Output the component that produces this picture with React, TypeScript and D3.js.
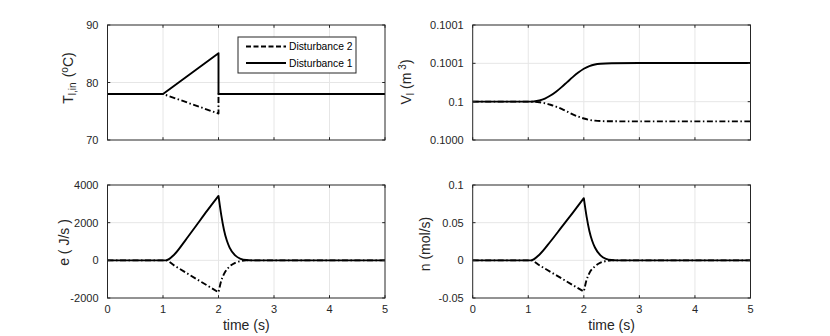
import React from "react";
import * as d3 from "d3";

// ---------- data ----------
const timeTicks = [0, 1, 2, 3, 4, 5];

// Top-left: inlet temperature T_l,in (°C)
const tT1 = [0, 1, 2, 2, 5];
const T1 = [78, 78, 85.1, 78, 78];
const tT2 = [0, 1, 2, 2, 5];
const T2 = [78, 78, 74.6, 78, 78];
const tempTicks = [70, 80, 90];

// Top-right: liquid volume V_l (m^3)
const tV = [0, 1.0, 1.1, 1.2, 1.3, 1.4, 1.5, 1.6, 1.7, 1.8, 1.9, 2.0, 2.1, 2.2, 2.3, 2.5, 3.0, 5.0];
const V1 = [0.1, 0.1, 0.1000003, 0.1000015, 0.100004, 0.100008, 0.100013, 0.100019, 0.1000255, 0.100032, 0.100038, 0.100043, 0.1000465, 0.1000485, 0.1000495, 0.1000502, 0.1000505, 0.1000505];
const V2 = [0.1, 0.1, 0.0999998, 0.0999992, 0.099998, 0.099996, 0.0999935, 0.0999905, 0.099987, 0.0999835, 0.0999805, 0.099978, 0.0999762, 0.0999752, 0.0999747, 0.0999744, 0.0999743, 0.0999743];
const volTicks = [0.09995, 0.1, 0.10005, 0.1001];
const volTickLabels = ["0.1000", "0.1", "0.1001", "0.1001"];

// Bottom-left: energy e (J/s)
const tE1 = [0, 1.05, 1.2, 1.4, 1.6, 1.8, 2.0, 2.05, 2.1, 2.15, 2.2, 2.3, 2.4, 2.5, 2.6, 5];
const E1 = [0, 0, 300, 1050, 1850, 2650, 3420, 2400, 1600, 1050, 680, 260, 80, 15, 0, 0];
const tE2 = [0, 1.05, 1.2, 1.4, 1.6, 1.8, 2.0, 2.05, 2.1, 2.2, 2.3, 2.4, 2.5, 5];
const E2 = [0, 0, -270, -630, -990, -1340, -1700, -1080, -720, -330, -130, -40, 0, 0];
const eTicks = [-2000, 0, 2000, 4000];

// Bottom-right: molar flow n (mol/s)
const tN1 = [0, 1.05, 1.2, 1.4, 1.6, 1.8, 2.0, 2.05, 2.1, 2.15, 2.2, 2.3, 2.4, 2.5, 2.6, 5];
const N1 = [0, 0, 0.0075, 0.025, 0.044, 0.063, 0.0825, 0.058, 0.039, 0.026, 0.017, 0.0065, 0.002, 0.0004, 0, 0];
const tN2 = [0, 1.05, 1.2, 1.4, 1.6, 1.8, 2.0, 2.05, 2.1, 2.2, 2.3, 2.4, 2.5, 5];
const N2 = [0, 0, -0.0066, -0.0153, -0.024, -0.0328, -0.0415, -0.026, -0.017, -0.008, -0.003, -0.001, 0, 0];
const nTicks = [-0.05, 0, 0.05, 0.1];
const nTickLabels = ["-0.05", "0", "0.05", "0.1"];

const legendLabels = ["Disturbance 2", "Disturbance 1"];

// ---------- styling ----------
const FONT = "'Liberation Sans', Arial, Helvetica, sans-serif";
const AX = "#262626";
const GRID = "#e6e6e6";
const DASH = "6,2.5,1.5,2.5";
const LW = 1.9;

type Series = { t: number[]; v: number[]; dashed: boolean; smooth: boolean; splitAt?: number };

type PanelProps = {
  x0: number; x1: number; y0: number; y1: number;
  yDomain: [number, number];
  yTicks: number[];
  yTickLabels: string[];
  showX: boolean;
  series: Series[];
  yLabel: React.ReactNode;
  children?: React.ReactNode;
};

function Panel(p: PanelProps) {
  const x = d3.scaleLinear().domain([0, 5]).range([p.x0, p.x1]);
  const y = d3.scaleLinear().domain(p.yDomain).range([p.y1, p.y0]);
  const tl = 2.8;
  const clipId = `clip-${Math.round(p.x0)}-${Math.round(p.y0)}`;
  return (
    <g>
      <defs>
        <clipPath id={clipId}>
          <rect x={p.x0} y={p.y0 - 2} width={p.x1 - p.x0} height={p.y1 - p.y0 + 4} />
        </clipPath>
      </defs>
      <rect x={p.x0} y={p.y0} width={p.x1 - p.x0} height={p.y1 - p.y0} fill="#fff" />
      {timeTicks.slice(1, -1).map((t) => (
        <line key={"gx" + t} x1={x(t)} x2={x(t)} y1={p.y0} y2={p.y1} stroke={GRID} strokeWidth={1} />
      ))}
      {p.yTicks.slice(1, -1).map((v) => (
        <line key={"gy" + v} x1={p.x0} x2={p.x1} y1={y(v)} y2={y(v)} stroke={GRID} strokeWidth={1} />
      ))}
      <g clipPath={`url(#${clipId})`}>
        {p.series.map((s, i) => {
          const pts = s.t.map((t, k) => [t, s.v[k]] as [number, number]);
          const gen = d3
            .line<[number, number]>()
            .x((d) => x(d[0]))
            .y((d) => y(d[1]))
            .curve(s.smooth ? d3.curveMonotoneX : d3.curveLinear);
          let d = "";
          if (s.splitAt !== undefined) {
            const k = s.t.indexOf(s.splitAt);
            const a = gen(pts.slice(0, k + 1)) || "";
            const b = gen(pts.slice(k)) || "";
            d = a + b.replace(/^M/, "L");
          } else {
            d = gen(pts) || "";
          }
          return (
            <path
              key={i}
              d={d}
              fill="none"
              stroke="#000"
              strokeWidth={LW}
              strokeDasharray={s.dashed ? DASH : undefined}
              strokeLinejoin="round"
            />
          );
        })}
      </g>
      <rect x={p.x0} y={p.y0} width={p.x1 - p.x0} height={p.y1 - p.y0} fill="none" stroke={AX} strokeWidth={1} />
      {timeTicks.map((t) => (
        <g key={"tx" + t}>
          <line x1={x(t)} x2={x(t)} y1={p.y1} y2={p.y1 - tl} stroke={AX} />
          <line x1={x(t)} x2={x(t)} y1={p.y0} y2={p.y0 + tl} stroke={AX} />
          {p.showX && (
            <text x={x(t)} y={p.y1 + 14.5} textAnchor="middle" fontSize={11} fill={AX} fontFamily={FONT}>
              {t}
            </text>
          )}
        </g>
      ))}
      {p.yTicks.map((v, i) => (
        <g key={"ty" + v}>
          <line x1={p.x0} x2={p.x0 + tl} y1={y(v)} y2={y(v)} stroke={AX} />
          <line x1={p.x1} x2={p.x1 - tl} y1={y(v)} y2={y(v)} stroke={AX} />
          <text x={p.x0 - 9} y={y(v) + 4} textAnchor="end" fontSize={11} fill={AX} fontFamily={FONT}>
            {p.yTickLabels[i]}
          </text>
        </g>
      ))}
      {p.showX && (
        <text x={(p.x0 + p.x1) / 2} y={p.y1 + 32} textAnchor="middle" fontSize={14} fill={AX} fontFamily={FONT}>
          time (s)
        </text>
      )}
      {p.yLabel}
      {p.children}
    </g>
  );
}

export default function App() {
  const L = { x0: 107.5, x1: 385 };
  const R = { x0: 472.7, x1: 750.5 };
  const T = { y0: 25, y1: 140 };
  const B = { y0: 185, y1: 298 };

  const legX0 = 238, legY0 = 37, legW = 118, legH = 36;

  return (
    <svg width={830} height={336} style={{ display: "block", position: "absolute", left: 0, top: 0 }} fontFamily={FONT}>
      <rect width={830} height={336} fill="#fff" />
      <Panel
        {...L}
        {...T}
        yDomain={[70, 90]}
        yTicks={tempTicks}
        yTickLabels={tempTicks.map(String)}
        showX={false}
        series={[
          { t: tT2, v: T2, dashed: true, smooth: false },
          { t: tT1, v: T1, dashed: false, smooth: false },
        ]}
        yLabel={
          <text transform="translate(73,78) rotate(-90)" textAnchor="middle" fontSize={14} fill={AX}>
            T<tspan fontSize={10} dy={3}>l,in</tspan>
            <tspan dy={-3} dx={5}>(</tspan>
            <tspan fontSize={10} dy={-5}>o</tspan>
            <tspan dy={5}>C)</tspan>
          </text>
        }
      >
        <g>
          <rect x={legX0} y={legY0} width={legW} height={legH} fill="#fff" stroke={AX} strokeWidth={1} />
          {legendLabels.map((lab, i) => {
            const yy = legY0 + 9.5 + i * 16.5;
            return (
              <g key={lab}>
                <line
                  x1={legX0 + 8}
                  x2={legX0 + 48}
                  y1={yy}
                  y2={yy}
                  stroke="#000"
                  strokeWidth={LW}
                  strokeDasharray={i === 0 ? "5,2.5" : undefined}
                />
                <text x={legX0 + 51} y={yy + 3.7} fontSize={10.3} fill="#000">
                  {lab}
                </text>
              </g>
            );
          })}
        </g>
      </Panel>
      <Panel
        {...R}
        {...T}
        yDomain={[0.09995, 0.1001]}
        yTicks={volTicks}
        yTickLabels={volTickLabels}
        showX={false}
        series={[
          { t: tV, v: V2, dashed: true, smooth: true },
          { t: tV, v: V1, dashed: false, smooth: true },
        ]}
        yLabel={
          <text transform="translate(411,82) rotate(-90)" textAnchor="middle" fontSize={14} fill={AX}>
            V<tspan fontSize={10} dy={3}>l</tspan>
            <tspan dy={-3} dx={4}>(m</tspan>
            <tspan fontSize={10} dy={-5} dx={3}>3</tspan>
            <tspan dy={5}>)</tspan>
          </text>
        }
      />
      <Panel
        {...L}
        {...B}
        yDomain={[-2000, 4000]}
        yTicks={eTicks}
        yTickLabels={eTicks.map(String)}
        showX={true}
        series={[
          { t: tE2, v: E2, dashed: true, smooth: true, splitAt: 2.0 },
          { t: tE1, v: E1, dashed: false, smooth: true, splitAt: 2.0 },
        ]}
        yLabel={
          <text transform="translate(69,242.5) rotate(-90)" textAnchor="middle" fontSize={14} fill={AX}>
            e ( J/s )
          </text>
        }
      />
      <Panel
        {...R}
        {...B}
        yDomain={[-0.05, 0.1]}
        yTicks={nTicks}
        yTickLabels={nTickLabels}
        showX={true}
        series={[
          { t: tN2, v: N2, dashed: true, smooth: true, splitAt: 2.0 },
          { t: tN1, v: N1, dashed: false, smooth: true, splitAt: 2.0 },
        ]}
        yLabel={
          <text transform="translate(430,244) rotate(-90)" textAnchor="middle" fontSize={14} fill={AX}>
            n (mol/s)
          </text>
        }
      />
    </svg>
  );
}
